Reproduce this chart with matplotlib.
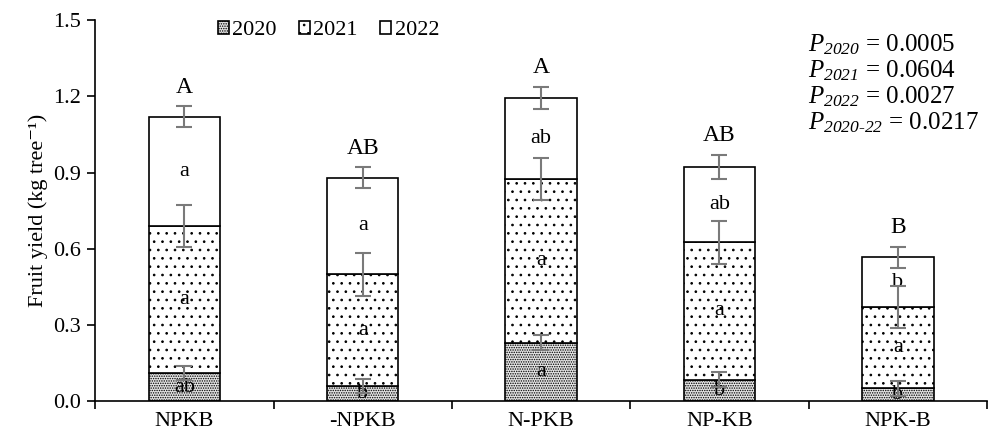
import numpy as np
import matplotlib
matplotlib.use("Agg")
import matplotlib.pyplot as plt

plt.rcParams['font.family'] = ['Liberation Serif', 'DejaVu Serif']
plt.rcParams['mathtext.fontset'] = 'custom'
plt.rcParams['mathtext.rm'] = 'Liberation Serif:italic'
plt.rcParams['mathtext.it'] = 'Liberation Serif:italic'
plt.rcParams['hatch.linewidth'] = 0.7

treatments = ["NPKB", "-NPKB", "N-PKB", "NP-KB", "NPK-B"]
years = ["2020", "2021", "2022"]

# yield per year (kg tree-1), stacked
y2020 = [0.111, 0.060, 0.230, 0.085, 0.050]
y2021 = [0.579, 0.440, 0.644, 0.540, 0.321]
y2022 = [0.430, 0.380, 0.320, 0.297, 0.195]

# error bars (half length)
e2020 = [0.029, 0.029, 0.029, 0.029, 0.029]
e2021 = [0.082, 0.085, 0.084, 0.085, 0.083]
e2022 = [0.040, 0.040, 0.042, 0.048, 0.041]

# letters
l2020 = ["ab", "b", "a", "b", "b"]
l2021 = ["a", "a", "a", "a", "a"]
l2022 = ["a", "a", "ab", "ab", "b"]
ltotal = ["A", "AB", "A", "AB", "B"]

p_labels = ["2020", "2021", "2022", r"2020\text{-}22"]
p_values = ["0.0005", "0.0604", "0.0027", "0.0217"]

fig = plt.figure(figsize=(9.92, 4.37), dpi=100)
ax = fig.add_axes([0.096, 0.082, 0.899, 0.872])

x = np.arange(len(treatments))
w = 0.4
fs = 16

segments = [(y2020, e2020, l2020, ".......", "#e4e4e4"),
            (y2021, e2021, l2021, "..", "white"),
            (y2022, e2022, l2022, "", "white")]
bottom = np.zeros(len(treatments))
for (vals, errs, labs, hatch, fc), yr in zip(segments, years):
    vals = np.array(vals)
    ax.bar(x, vals, w, bottom=bottom, color=fc, edgecolor="black",
           linewidth=1.2, hatch=hatch, label=yr, zorder=2)
    top = bottom + vals
    ax.errorbar(x, top, yerr=errs, fmt="none", ecolor="#7a7a7a", elinewidth=1.5,
                capsize=6, capthick=1.5, zorder=4)
    for xi, lo, hi, lab in zip(x, bottom, top, labs):
        ax.text(xi, (lo + hi) / 2, lab, ha="center", va="center", fontsize=fs, zorder=3)
    bottom = top

for xi, t, e, lab in zip(x, bottom, e2022, ltotal):
    ax.text(xi, t + e + 0.035, lab, ha="center", va="bottom", fontsize=fs + 1)

for i, (pl, pv) in enumerate(zip(p_labels, p_values)):
    ax.text(0.799, 0.935 - i * 0.068, r"$P_{%s}$ = %s" % (pl, pv),
            transform=ax.transAxes, fontsize=fs + 2, va="center", ha="left")

ax.set_xlim(-0.5, 4.5)
ax.set_ylim(0, 1.5)
ax.set_yticks(np.arange(0, 1.51, 0.3))
ax.set_yticklabels(["%.1f" % v for v in np.arange(0, 1.51, 0.3)], fontsize=fs)
ax.set_xticks(np.arange(-0.5, 4.6, 1.0))
ax.set_xticklabels([])
ax.set_xticks(x, minor=True)
ax.set_xticklabels(treatments, minor=True, fontsize=fs)
ax.tick_params(axis="x", which="minor", length=0, pad=8)
ax.tick_params(axis="x", which="major", length=6, width=1.2, direction="out")
ax.tick_params(axis="y", length=6, width=1.2, direction="out", pad=4)
ax.set_ylabel("Fruit yield (kg tree⁻¹)", fontsize=fs, labelpad=4)

for s in ["top", "right"]:
    ax.spines[s].set_visible(False)
for s in ["left", "bottom"]:
    ax.spines[s].set_linewidth(1.2)

ax.legend(loc="upper left", bbox_to_anchor=(0.115, 1.05), ncol=3, frameon=False,
          fontsize=fs, handlelength=0.5, handleheight=0.5, handletextpad=0.15,
          columnspacing=1.0)

fig.savefig("out.png", dpi=100)
